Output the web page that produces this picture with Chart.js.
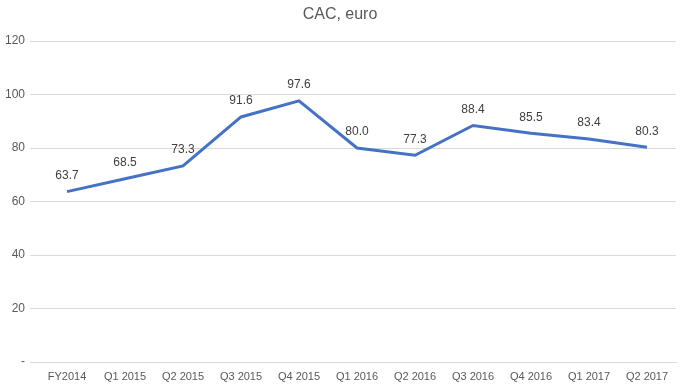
<!DOCTYPE html>
<html>
<head>
<meta charset="utf-8">
<script src="https://cdn.jsdelivr.net/npm/chart.js@4.4.1/dist/chart.umd.min.js"></script>
<style>
  html, body { margin: 0; padding: 0; background: #fff; }
  #wrap { width: 680px; height: 385px; position: relative; }
</style>
</head>
<body>
<div id="wrap"><canvas id="cacChart"></canvas></div>
<script>
// chart data
const categories = ['FY2014', 'Q1 2015', 'Q2 2015', 'Q3 2015', 'Q4 2015', 'Q1 2016', 'Q2 2016', 'Q3 2016', 'Q4 2016', 'Q1 2017', 'Q2 2017'];
const cacValues = [63.7, 68.5, 73.3, 91.6, 97.6, 80.0, 77.3, 88.4, 85.5, 83.4, 80.3];
const yTicks = [0, 20, 40, 60, 80, 100, 120];

const FONT = '"Liberation Sans", "Open Sans", sans-serif';
const GREY_TEXT = '#595959';

// title + point labels, drawn like the Excel original
const labelPlugin = {
    id: 'cacLabels',
    afterDatasetsDraw(chart) {
        const ctx = chart.ctx;
        ctx.save();
        ctx.font = '16px ' + FONT;
        ctx.fillStyle = GREY_TEXT;
        ctx.textAlign = 'center';
        ctx.textBaseline = 'middle';
        ctx.fillText('CAC, euro', 340, 15);

        ctx.font = '12px ' + FONT;
        ctx.fillStyle = '#404040';
        const meta = chart.getDatasetMeta(0);
        meta.data.forEach((pt, i) => {
            ctx.fillText(cacValues[i].toFixed(1), pt.x, pt.y - 16);
        });
        ctx.restore();
    }
};

new Chart(document.getElementById('cacChart'), {
    type: 'line',
    data: {
        labels: categories,
        datasets: [{
            label: 'CAC',
            data: cacValues,
            borderColor: '#4472C4',
            borderWidth: 3,
            pointRadius: 0,
            tension: 0,
            fill: false
        }]
    },
    options: {
        responsive: true,
        maintainAspectRatio: false,
        animation: false,
        layout: { padding: { top: 41, right: 4, left: 0, bottom: 0 } },
        plugins: {
            legend: { display: false },
            tooltip: { enabled: false }
        },
        scales: {
            x: {
                offset: true,
                grid: { display: false, drawTicks: false },
                border: { display: true, color: '#D9D9D9', width: 1 },
                ticks: {
                    color: GREY_TEXT,
                    font: { family: FONT, size: 11 },
                    padding: 8,
                    maxRotation: 0,
                    autoSkip: false
                },
                afterFit: (scale) => { scale.height = 23; }
            },
            y: {
                min: 0,
                max: 120,
                afterBuildTicks: (scale) => { scale.ticks = yTicks.map(v => ({ value: v })); },
                grid: { color: '#D9D9D9', drawTicks: true, tickLength: 8 },
                border: { display: false },
                ticks: {
                    color: GREY_TEXT,
                    font: { family: FONT, size: 12 },
                    padding: 5,
                    callback: (v) => v === 0 ? '-' : v
                },
                afterFit: (scale) => { scale.width = 38; }
            }
        }
    },
    plugins: [labelPlugin]
});
</script>
</body>
</html>
